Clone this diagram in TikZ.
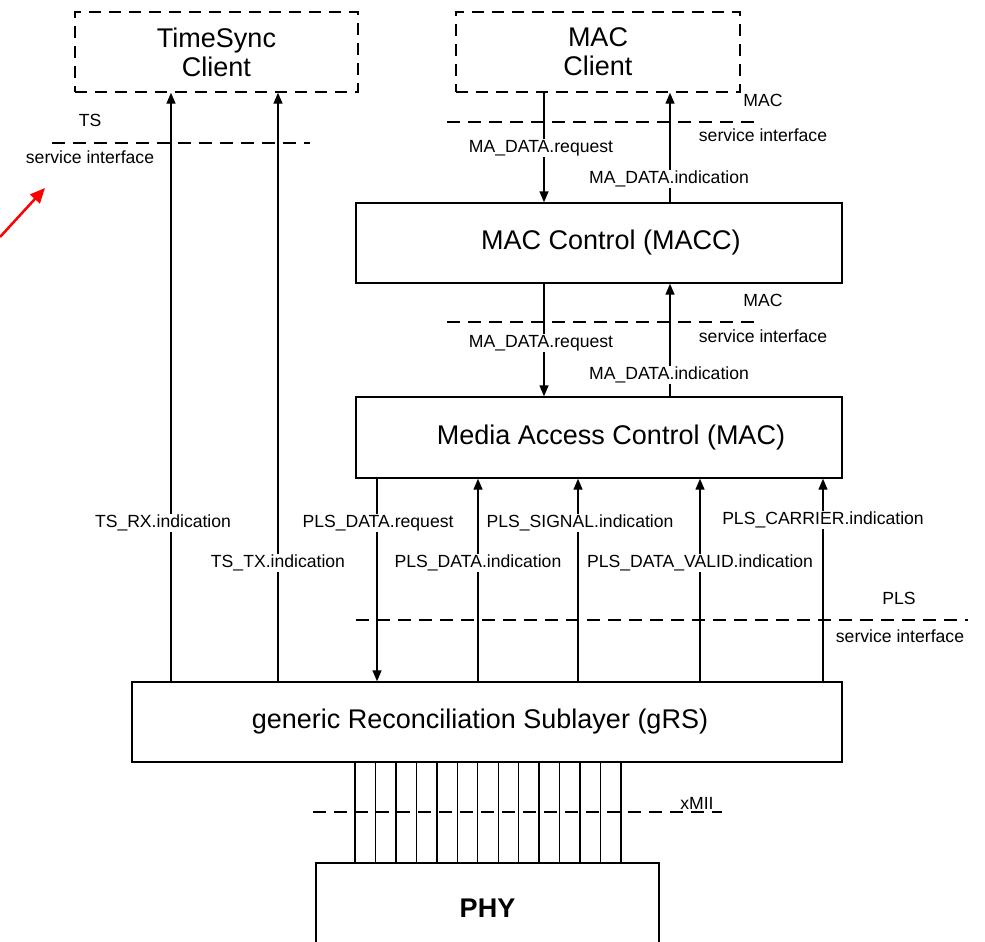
\documentclass[tikz,border=0pt]{standalone}
\usepackage{fontspec}
\setmainfont{Liberation Sans}
\usetikzlibrary{arrows.meta}
\begin{document}
\begin{tikzpicture}[x=1pt,y=-1pt,
  solidbox/.style={draw, line width=1.4pt, inner sep=0pt, font=\fontsize{27}{29}\selectfont, align=center},
  dashbox/.style={solidbox, dash pattern=on 12pt off 8pt},
  boxtext/.style={inner sep=0pt, font=\fontsize{27}{29}\selectfont},
  dashline/.style={line width=1.4pt, dash pattern=on 13pt off 8pt},
  lbl/.style={inner sep=1pt, font=\fontsize{17.6}{19}\selectfont},
  wlbl/.style={lbl, fill=white},
  arr/.style={line width=1.4pt, -{Triangle[width=9pt,length=11pt]}},
  ln/.style={line width=1.4pt}]
\useasboundingbox (0,0) rectangle (985,942);
% boxes
\node[dashbox, minimum width=283pt, minimum height=80pt] (tsc) at (216.5,52) {TimeSync\\Client};
\node[dashbox, minimum width=284pt, minimum height=80pt] (macc) at (598,52) {MAC\\Client};
\node[solidbox, minimum width=486pt, minimum height=80pt] (ctl) at (599,243) {};
\node[boxtext] (ctlt) at (611,243) {MAC Control (MACC)};
\node[solidbox, minimum width=486pt, minimum height=81pt] (mac) at (599,437.5) {};
\node[boxtext] (mact) at (611,437.5) {Media Access Control (MAC)};
\node[solidbox, minimum width=710pt, minimum height=80pt] (grs) at (487,722) {};
\node[boxtext] (grst) at (480,722) {generic Reconciliation Sublayer (gRS)};
\node[solidbox, minimum width=343pt, minimum height=90pt, font=\fontsize{27}{29}\selectfont\bfseries] (phy) at (487.5,908) {PHY};
% x positions
\coordinate (xreq) at (544,0);
\coordinate (xind) at (670,0);
\coordinate (xrx) at (171,0);
\coordinate (xtx) at (278,0);
\coordinate (xpr) at (377,0);
\coordinate (xpi) at (478,0);
\coordinate (xps) at (578,0);
\coordinate (xpv) at (700,0);
\coordinate (xpc) at (823,0);
% service interface lines
\coordinate (ts1) at (52,143); \coordinate (ts2) at (310,143);
\coordinate (m1a) at (447,122); \coordinate (m1b) at (757,122);
\coordinate (m2a) at (447,322); \coordinate (m2b) at (757,322);
\coordinate (p1) at (356,620); \coordinate (p2) at (968,620);
\coordinate (x1) at (313,812); \coordinate (x2) at (722,812);
\draw[dashline] (ts1) -- (ts2);
\draw[dashline] (m1a) -- (m1b);
\draw[dashline] (m2a) -- (m2b);
\draw[dashline] (p1) -- (p2);
% arrows
\draw[arr] (macc.south -| xreq) -- (ctl.north -| xreq);
\draw[arr] (ctl.north -| xind) -- (macc.south -| xind);
\draw[arr] (ctl.south -| xreq) -- (mac.north -| xreq);
\draw[arr] (mac.north -| xind) -- (ctl.south -| xind);
\draw[arr] (grs.north -| xrx) -- (tsc.south -| xrx);
\draw[arr] (grs.north -| xtx) -- (tsc.south -| xtx);
\draw[arr] (mac.south -| xpr) -- (grs.north -| xpr);
\draw[arr] (grs.north -| xpi) -- (mac.south -| xpi);
\draw[arr] (grs.north -| xps) -- (mac.south -| xps);
\draw[arr] (grs.north -| xpv) -- (mac.south -| xpv);
\draw[arr] (grs.north -| xpc) -- (mac.south -| xpc);
% xMII bundle
\foreach \i in {0,...,13} {
  \coordinate (b\i) at ({355+\i*20.46},0);
  \draw[ln] (grs.south -| b\i) -- (phy.north -| b\i);
}
\draw[dashline] (x1) -- (x2);
% labels
\node[lbl] (tsl) at (90,120) {TS};
\node[lbl] (tssi) at (90,157) {service interface};
\node[lbl] (macl1) at (763,100) {MAC};
\node[lbl] (macsi1) at (763,135) {service interface};
\node[lbl] (macl2) at (763,300) {MAC};
\node[lbl] (macsi2) at (763,336) {service interface};
\node[lbl] (plsl) at (899,598) {PLS};
\node[lbl] (plssi) at (900,636) {service interface};
\node[lbl] (xmii) at (697,803) {xMII};
\node[wlbl] (r1) at (541,148) {MA\_DATA.request};
\node[wlbl] (i1) at (669,179) {MA\_DATA.indication};
\node[wlbl] (r2) at (541,343) {MA\_DATA.request};
\node[wlbl] (i2) at (669,375) {MA\_DATA.indication};
\node[wlbl] (rx) at (163,523) {TS\_RX.indication};
\node[wlbl] (tx) at (278,563) {TS\_TX.indication};
\node[wlbl] (pr) at (378,523) {PLS\_DATA.request};
\node[wlbl] (pi) at (478,563) {PLS\_DATA.indication};
\node[wlbl] (ps) at (580,523) {PLS\_SIGNAL.indication};
\node[wlbl] (pv) at (700,563) {PLS\_DATA\_VALID.indication};
\node[wlbl] (pc) at (823,520) {PLS\_CARRIER.indication};
% red pointer
\coordinate (ra) at (0,237);
\coordinate (rb) at (45,188);
\draw[red, line width=2.5pt, -{Triangle[width=13pt,length=15pt]}] (ra) -- (rb);
\end{tikzpicture}
\end{document}
